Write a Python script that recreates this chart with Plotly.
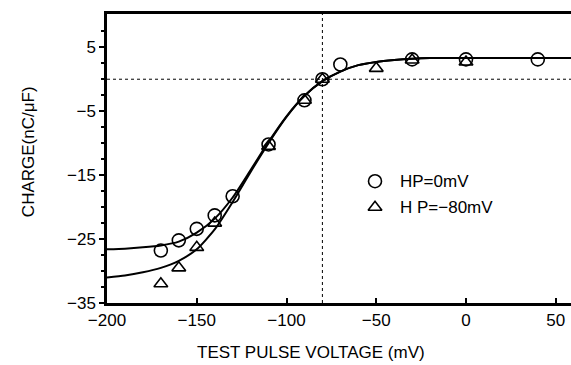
import plotly.graph_objects as go

# Measured data
v_hp0 = [-170, -160, -150, -140, -130, -110, -90, -80, -70, -30, 0, 40]
q_hp0 = [-26.8, -25.2, -23.4, -21.3, -18.3, -10.2, -3.3, 0.0, 2.3, 3.1, 3.1, 3.1]

v_hp80 = [-170, -160, -150, -140, -110, -90, -80, -50, -30, 0]
q_hp80 = [-32.0, -29.5, -26.3, -22.5, -10.5, -3.3, 0.0, 1.7, 3.0, 2.7]

# Fitted curves
v_fit0 = [-200, -190, -180, -170, -160, -150, -140, -130, -120, -110, -100, -90, -80, -70, -60, -50, -40, -30, -20, 0, 60]
q_fit0 = [-26.6, -26.5, -26.3, -26.0, -25.4, -24.0, -21.8, -18.5, -14.2, -9.8, -5.8, -2.6, -0.3, 1.2, 2.2, 2.7, 3.0, 3.2, 3.3, 3.3, 3.3]

v_fit80 = [-200, -190, -180, -170, -160, -150, -140, -130, -120, -110, -100, -90, -80, -70, -60, -50, -40, -30, -20, 0, 60]
q_fit80 = [-31.0, -30.7, -30.2, -29.5, -28.4, -26.6, -23.5, -19.2, -14.5, -10.0, -5.9, -2.6, -0.3, 1.2, 2.2, 2.7, 3.0, 3.2, 3.3, 3.3, 3.3]

legend_labels = ["HP=0mV", "H P=\u221280mV"]

FONT = "Liberation Sans, Arial, sans-serif"

fig = go.Figure()

fig.add_trace(go.Scatter(x=v_fit0, y=q_fit0, mode="lines", line=dict(color="black", width=2, shape="spline", smoothing=0.6),
                         showlegend=False, hoverinfo="skip"))
fig.add_trace(go.Scatter(x=v_fit80, y=q_fit80, mode="lines", line=dict(color="black", width=2, shape="spline", smoothing=0.6),
                         showlegend=False, hoverinfo="skip"))
fig.add_trace(go.Scatter(x=v_hp0, y=q_hp0, mode="markers",
                         marker=dict(symbol="circle-open", size=13, color="black", line=dict(width=1.6, color="black")),
                         showlegend=False))
fig.add_trace(go.Scatter(x=v_hp80, y=q_hp80, mode="markers",
                         marker=dict(symbol="triangle-up-open", size=12, color="black", line=dict(width=1.6, color="black")),
                         showlegend=False))

# legend markers on an overlay axis
fig.add_trace(go.Scatter(x=[0.5776], y=[0.4215], mode="markers", xaxis="x2", yaxis="y2",
                         marker=dict(symbol="circle-open", size=13, color="black", line=dict(width=1.6, color="black")),
                         showlegend=False, hoverinfo="skip"))
fig.add_trace(go.Scatter(x=[0.5776], y=[0.3315], mode="markers", xaxis="x2", yaxis="y2",
                         marker=dict(symbol="triangle-up-open", size=12, color="black", line=dict(width=1.6, color="black")),
                         showlegend=False, hoverinfo="skip"))

for lbl, yy in zip(legend_labels, [0.4215, 0.3315]):
    fig.add_annotation(text=lbl, x=0.627, y=yy, xref="paper", yref="paper", xanchor="left", yanchor="middle",
                       showarrow=False, font=dict(family=FONT, size=17, color="black"))

# dotted reference lines
fig.add_shape(type="line", xref="paper", x0=0, x1=1, yref="y", y0=0, y1=0,
              line=dict(color="black", width=1, dash="dot"))
fig.add_shape(type="line", xref="x", x0=-80, x1=-80, yref="paper", y0=0, y1=1,
              line=dict(color="black", width=1, dash="dot"))

fig.add_annotation(text="TEST PULSE VOLTAGE (mV)", x=0.44, y=-0.171, xref="paper", yref="paper",
                   showarrow=False, xanchor="center", yanchor="middle",
                   font=dict(family=FONT, size=17, color="black"))
fig.add_annotation(text="CHARGE(nC/\u03bcF)", x=(28 - 107) / 464, y=(302.7 - 152) / 288.7,
                   xref="paper", yref="paper",
                   showarrow=False, textangle=-90, xanchor="center", yanchor="middle",
                   font=dict(family=FONT, size=17, color="black"))

fig.update_layout(
    width=571, height=365,
    margin=dict(l=107, r=0, t=14, b=62, pad=0),
    paper_bgcolor="white", plot_bgcolor="white",
    font=dict(family=FONT, size=17, color="black"),
    xaxis=dict(range=[-200, 58.5], tickmode="array", tickvals=[-200, -150, -100, -50, 0, 50],
               ticktext=["\u2212200", "\u2212150", "\u2212100", "\u221250", "0", "50"],
               showgrid=False, zeroline=False, showline=True, linecolor="black", linewidth=2.5,
               mirror=True, ticks="inside", ticklen=5, tickwidth=1.5, tickcolor="black"),
    yaxis=dict(range=[-35, 10.2], tickmode="array", tickvals=[5, -5, -15, -25, -35],
               ticktext=["5", "\u22125", "\u221215", "\u221225", "\u221235"],
               showgrid=False, zeroline=False, showline=True, linecolor="black", linewidth=2.5,
               ticks="outside", ticklen=5, tickwidth=1.5, tickcolor="black",
               minor=dict(tickmode="array", tickvals=[7.5, 2.5, 0, -2.5, -7.5, -10, -12.5, -17.5, -20, -22.5, -27.5, -30, -32.5],
                          ticks="outside", ticklen=3, tickcolor="black")),
    xaxis2=dict(range=[0, 1], overlaying="x", visible=False, fixedrange=True),
    yaxis2=dict(range=[0, 1], overlaying="y", visible=False, fixedrange=True),
)

fig.write_html("out.html")
